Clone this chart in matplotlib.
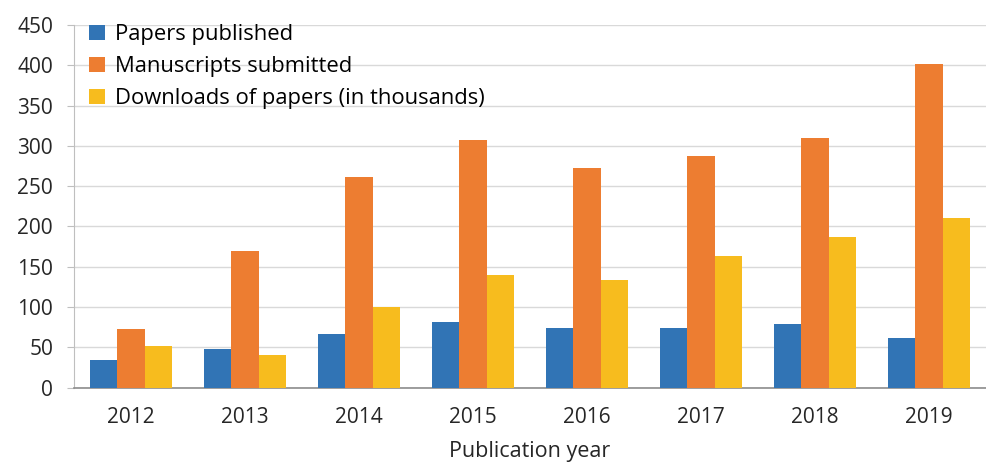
import matplotlib.pyplot as plt
import numpy as np

years = ["2012", "2013", "2014", "2015", "2016", "2017", "2018", "2019"]
papers_published = [34, 48, 67, 81, 74, 74, 79, 61]
manuscripts_submitted = [73, 170, 261, 307, 272, 287, 310, 401]
downloads_thousands = [52, 41, 100, 140, 133, 163, 187, 211]

series = [
    ("Papers published", papers_published, "#3174B5"),
    ("Manuscripts submitted", manuscripts_submitted, "#ED7D31"),
    ("Downloads of papers (in thousands)", downloads_thousands, "#F7BC1E"),
]

plt.rcParams["font.family"] = ["Open Sans", "DejaVu Sans"]

fig = plt.figure(figsize=(9.86, 4.62), dpi=100)
ax = fig.add_axes([0.075, 0.161, 0.925, 0.785])

x = np.arange(len(years))
width = 0.24
for i, (label, vals, color) in enumerate(series):
    ax.bar(x + (i - 1) * width, vals, width, color=color, label=label, zorder=3)

ax.set_xlim(-0.5, len(years) - 0.5)
ax.set_ylim(0, 450)
ax.set_yticks(range(0, 451, 50))
ax.set_xticks(x)
ax.set_xticklabels(years)
ax.grid(axis="y", color="#D9D9D9", linewidth=1.0, zorder=0)
ax.set_axisbelow(True)

for side in ("top", "right"):
    ax.spines[side].set_visible(False)
ax.spines["left"].set_color("#BFBFBF")
ax.spines["bottom"].set_color("#8C8C8C")
ax.spines["bottom"].set_linewidth(1.2)
ax.tick_params(axis="y", length=5, color="#BFBFBF", labelsize=15, pad=10, labelcolor="#262626")
ax.tick_params(axis="x", length=0, labelsize=15, pad=14, labelcolor="#262626")
ax.set_xlabel("Publication year", fontsize=15.5, color="#262626", labelpad=9)

ax.legend(
    loc="upper left", bbox_to_anchor=(0.0, 1.045), frameon=False,
    fontsize=15.8, handlelength=0.7, handleheight=0.7, handletextpad=0.45,
    labelspacing=0.5, borderaxespad=0.3,
)

fig.savefig("out.png", dpi=100)
